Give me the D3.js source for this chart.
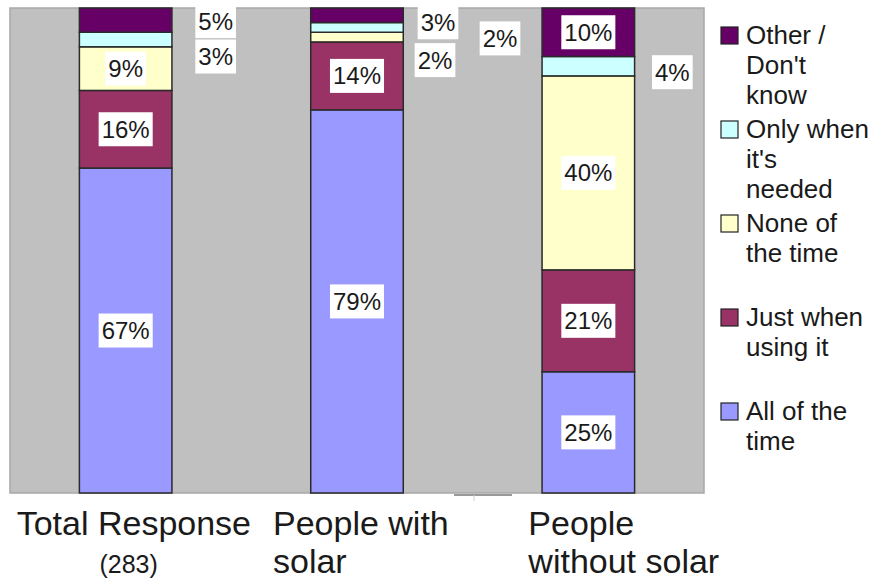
<!DOCTYPE html>
<html>
<head>
<meta charset="utf-8">
<script src="https://cdn.jsdelivr.net/npm/d3@7"></script>
<style>
  body { margin: 0; background: #fff; }
  text { font-family: "Liberation Sans", Arial, sans-serif; fill: #1a1a1a; }
</style>
</head>
<body>
<div id="chart"></div>
<script>
// data
var categories = ["Total Response", "People with solar", "People without solar"];
var seriesNames = ["All of the time", "Just when using it", "None of the time", "Only when it's needed", "Other / Don't know"];
var allOfTheTime   = [67, 79, 25];
var justWhenUsing  = [16, 14, 21];
var noneOfTheTime  = [9, 2, 40];
var onlyWhenNeeded = [3, 2, 4];
var otherDontKnow  = [5, 3, 10];
var seriesColors = ["#9999ff", "#993366", "#ffffcc", "#ccffff", "#660066"];

// category label lines and legend wrapping
var categoryLines = [["Total Response", "(283)"], ["People with", "solar"], ["People", "without solar"]];
var legendLines = [["All of the", "time"], ["Just when", "using it"], ["None of", "the time"], ["Only when", "it's", "needed"], ["Other /", "Don't", "know"]];

// small slices whose labels sit beside the bar: [category, series, dx, dy]
var outsideLabels = [[0, 4, 90, 1], [0, 3, 90, 17], [1, 4, 81, 7], [1, 3, 143, 11], [1, 2, 78, 23], [2, 3, 84, 6]];

var W = 873, H = 580;
var plot = {left: 10, right: 704, top: 8, bottom: 493};

var svg = d3.select("#chart").append("svg")
    .attr("width", W)
    .attr("height", H);

var rows = categories.map(function(c, i){
  return {cat: c, s0: allOfTheTime[i], s1: justWhenUsing[i], s2: noneOfTheTime[i], s3: onlyWhenNeeded[i], s4: otherDontKnow[i]};
});
var keys = ["s0", "s1", "s2", "s3", "s4"];
var stacked = d3.stack().keys(keys)(rows);

var x = d3.scaleBand().domain(categories).range([plot.left, plot.right]).paddingInner(0.6).paddingOuter(0.3);
var y = d3.scaleLinear().domain([0, 100]).range([plot.bottom, plot.top]);

// plot background
svg.append("rect")
    .attr("x", plot.left).attr("y", plot.top)
    .attr("width", plot.right - plot.left).attr("height", plot.bottom - plot.top)
    .attr("fill", "#c0c0c0")
    .attr("stroke", "#a8a8a8")
    .attr("stroke-width", 1.5);

// stray line under the plot
svg.append("line").attr("x1", 454).attr("x2", 512).attr("y1", 495).attr("y2", 495)
    .attr("stroke", "#999").attr("stroke-width", 2);
svg.append("line").attr("x1", 474).attr("x2", 474).attr("y1", 495).attr("y2", 501)
    .attr("stroke", "#ccc").attr("stroke-width", 1);

var layers = svg.selectAll("g.layer")
    .data(stacked)
  .enter().append("g")
    .attr("class", "layer")
    .attr("fill", function(d, i){ return seriesColors[i]; });

layers.selectAll("rect")
    .data(function(d){ return d; })
  .enter().append("rect")
    .attr("x", function(d){ return x(d.data.cat); })
    .attr("y", function(d){ return y(d[1]); })
    .attr("width", x.bandwidth())
    .attr("height", function(d){ return y(d[0]) - y(d[1]); })
    .attr("stroke", "#2a2a2a")
    .attr("stroke-width", 1.5);

// value labels with white boxes
function isOutside(ci, si){
  for (var k in outsideLabels) {
    if (outsideLabels[k][0] == ci && outsideLabels[k][1] == si) return outsideLabels[k];
  }
  return null;
}

var labelG = svg.append("g");
stacked.forEach(function(layer, si){
  layer.forEach(function(d, ci){
    var v = d[1] - d[0];
    var cx = x(d.data.cat) + x.bandwidth()/2;
    var cy = (y(d[0]) + y(d[1]))/2;
    var off = isOutside(ci, si);
    if (off) { cx += off[2]; cy += off[3]; }
    else if (v < 6) { return; }
    var g = labelG.append("g");
    var box = g.append("rect").attr("fill", "#fff");
    var t = g.append("text")
        .attr("x", cx).attr("y", cy)
        .attr("text-anchor", "middle")
        .attr("dominant-baseline", "central")
        .style("font-size", "24px")
        .text(v + "%");
    var bb = t.node().getBBox();
    box.attr("x", bb.x - 3).attr("y", cy - 17)
       .attr("width", bb.width + 6).attr("height", 34);
  });
});

// category labels
var catAnchors = [["start", "middle"], ["start", "start"], ["start", "start"]];
var catDx = [[-109, 3], [-84, -84], [-60, -60]];
var catSize = [[34, 25], [34, 34], [34, 34]];
categoryLines.forEach(function(lines, ci){
  var cx = x(categories[ci]) + x.bandwidth()/2;
  lines.forEach(function(line, li){
    svg.append("text")
        .attr("x", cx + catDx[ci][li])
        .attr("y", li == 0 ? 535 : 573)
        .attr("text-anchor", catAnchors[ci][li])
        .style("font-size", catSize[ci][li] + "px")
        .text(line);
  });
});

// legend, top entry is the top of the stack
var legendOrder = [4, 3, 2, 1, 0];
var ly = d3.scalePoint().domain(legendOrder).range([44, 420]);
var legend = svg.append("g");
legendOrder.forEach(function(si){
  var base = ly(si);
  legend.append("rect")
      .attr("x", 721).attr("y", base - 17)
      .attr("width", 17).attr("height", 17)
      .attr("fill", seriesColors[si])
      .attr("stroke", "#222")
      .attr("stroke-width", 1.2);
  legendLines[si].forEach(function(line, li){
    legend.append("text")
        .attr("x", 746)
        .attr("y", base + li*30)
        .style("font-size", "26px")
        .text(line);
  });
});
</script>
</body>
</html>
